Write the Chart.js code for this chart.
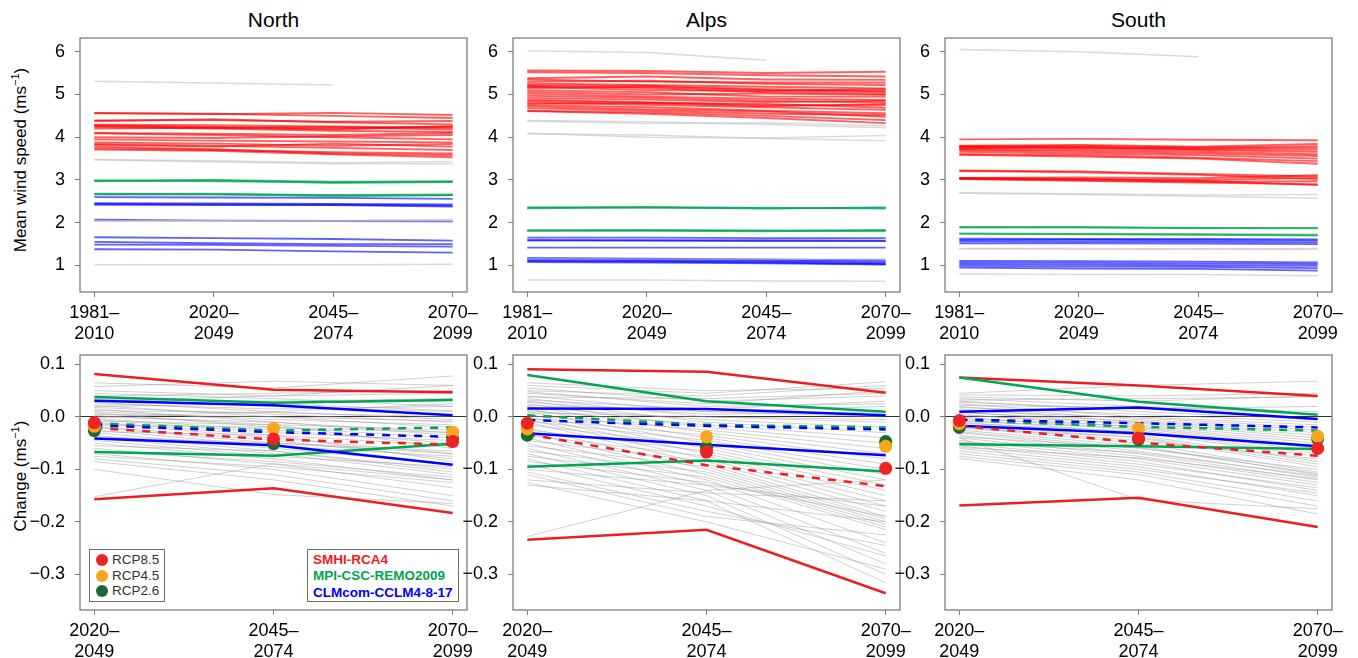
<!DOCTYPE html>
<html lang="en">
<head>
    <meta charset="UTF-8">
    <title>Mean wind speed and change by region</title>
    <style>
        body {
            margin: 0;
            background: #fff;
            font-family: "Liberation Sans", Arial, sans-serif;
        }
        #page {
            position: relative;
            width: 1358px;
            height: 658px;
            overflow: hidden;
        }
        canvas {
            position: absolute;
        }
        .ptitle {
            position: absolute;
            top: 9px;
            width: 387px;
            font-size: 21px;
            line-height: 21px;
            text-align: center;
            color: #000;
        }
        .ytitle {
            position: absolute;
            font-size: 17px;
            white-space: nowrap;
            color: #000;
            transform: translate(-50%, -50%) rotate(-90deg);
        }
        .ytitle sup {
            font-size: 11px;
        }
        .legend {
            position: absolute;
            border: 1px solid #6e6e6e;
            background: #fff;
            font-size: 13.5px;
        }
        .legend .row {
            position: absolute;
            white-space: nowrap;
        }
        .dot {
            position: absolute;
            width: 12px;
            height: 12px;
            border-radius: 50%;
        }
    </style>
</head>
<body>

<div id="page">
    <div class="ptitle" style="left:80px">North</div>
    <div class="ptitle" style="left:513px">Alps</div>
    <div class="ptitle" style="left:945px">South</div>
    <div class="ytitle" style="left:20px; top:160px">Mean wind speed (ms<sup>−1</sup>)</div>
    <div class="ytitle" style="left:20px; top:476px">Change (ms<sup>−1</sup>)</div>
</div>

<script src="https://cdn.jsdelivr.net/npm/chart.js"></script>
<script>
    // tick labels
    const topPeriods = [['1981–', '2010'], ['2020–', '2049'], ['2045–', '2074'], ['2070–', '2099']];
    const changePeriods = [['2020–', '2049'], ['2045–', '2074'], ['2070–', '2099']];
    const speedTicks = [1, 2, 3, 4, 5, 6];
    const changeTicks = [-0.3, -0.2, -0.1, 0, 0.1];

    // mean wind speed per model (1981-2010, 2020-2049, 2045-2074, 2070-2099)
    const northRed = [
        [4.57, 4.54, 4.57, 4.52], [4.56, 4.55, 4.50, 4.45], [4.39, 4.40, 4.36, 4.38], [4.38, 4.42, 4.35, 4.30],
        [4.29, 4.28, 4.25, 4.22], [4.28, 4.24, 4.20, 4.26], [4.26, 4.22, 4.24, 4.18], [4.24, 4.20, 4.15, 4.12],
        [4.20, 4.22, 4.18, 4.25], [4.10, 4.08, 4.05, 4.10], [4.09, 4.05, 4.00, 3.95], [4.00, 3.98, 4.02, 4.05],
        [3.95, 3.92, 3.90, 3.88], [3.88, 3.85, 3.80, 3.84], [3.84, 3.80, 3.75, 3.70], [3.82, 3.78, 3.85, 3.78],
        [3.78, 3.72, 3.62, 3.58], [3.74, 3.70, 3.65, 3.62], [3.71, 3.68, 3.60, 3.53]
    ];
    const northGreen = [
        [2.98, 3.00, 2.96, 2.96], [2.99, 2.97, 2.95, 2.97], [2.97, 2.99, 2.93, 2.95],
        [2.67, 2.68, 2.64, 2.64], [2.66, 2.66, 2.65, 2.66], [2.68, 2.67, 2.62, 2.65]
    ];
    const northBlue = [
        [2.60, 2.59, 2.58, 2.56], [2.46, 2.45, 2.44, 2.43], [2.44, 2.43, 2.42, 2.40], [2.42, 2.41, 2.41, 2.38],
        [2.07, 2.05, 2.04, 2.03], [1.66, 1.64, 1.62, 1.58], [1.55, 1.52, 1.50, 1.50], [1.49, 1.48, 1.46, 1.44],
        [1.38, 1.37, 1.33, 1.30]
    ];
    const northGray = [
        [5.31, 5.27, 5.22, null], [3.48, 3.45, 3.40, 3.43], [3.47, 3.42, 3.38, 3.38],
        [2.04, 2.06, 2.05, 2.08], [2.03, 2.04, 2.04, 2.05], [1.02, 1.02, 1.02, 1.03]
    ];

    const alpsRed = [
        [5.56, 5.55, 5.50, 5.53], [5.52, 5.50, 5.45, 5.42], [5.38, 5.42, 5.35, 5.34], [5.35, 5.30, 5.28, 5.28],
        [5.30, 5.32, 5.25, 5.22], [5.26, 5.22, 5.18, 5.14], [5.22, 5.20, 5.12, 5.08], [5.20, 5.15, 5.05, 5.01],
        [5.18, 5.10, 5.08, 5.12], [5.15, 5.18, 5.10, 5.05], [5.10, 5.05, 4.95, 4.95], [5.06, 5.00, 5.02, 4.99],
        [5.02, 4.95, 4.90, 4.87], [4.97, 4.92, 4.85, 4.81], [4.92, 4.88, 4.82, 4.85], [4.88, 4.82, 4.75, 4.75],
        [4.85, 4.80, 4.78, 4.69], [4.81, 4.76, 4.70, 4.64], [4.78, 4.80, 4.72, 4.78], [4.75, 4.70, 4.62, 4.56],
        [4.72, 4.65, 4.60, 4.48], [4.68, 4.62, 4.55, 4.52], [4.62, 4.58, 4.50, 4.40], [4.61, 4.55, 4.45, 4.33]
    ];
    const alpsGreen = [
        [2.35, 2.37, 2.34, 2.35], [2.36, 2.35, 2.35, 2.33], [2.34, 2.36, 2.33, 2.36],
        [1.82, 1.83, 1.81, 1.82], [1.81, 1.82, 1.82, 1.80], [1.82, 1.81, 1.80, 1.83]
    ];
    const alpsBlue = [
        [1.65, 1.65, 1.64, 1.64], [1.60, 1.59, 1.59, 1.58], [1.58, 1.58, 1.57, 1.57], [1.42, 1.42, 1.42, 1.42],
        [1.18, 1.16, 1.14, 1.12], [1.15, 1.14, 1.12, 1.08], [1.12, 1.11, 1.09, 1.05], [1.10, 1.09, 1.07, 1.03],
        [1.08, 1.07, 1.05, 1.02]
    ];
    const alpsGray = [
        [6.02, 5.98, 5.80, null], [4.39, 4.36, 4.30, 4.22], [4.38, 4.32, 4.34, 4.27], [4.09, 4.00, 3.98, 4.04],
        [4.08, 4.05, 3.97, 3.92], [1.16, 1.15, 1.14, 1.16], [0.66, 0.66, 0.64, 0.63]
    ];

    const southRed = [
        [3.95, 3.96, 3.94, 3.93], [3.80, 3.82, 3.78, 3.84], [3.79, 3.76, 3.74, 3.75], [3.78, 3.80, 3.76, 3.79],
        [3.76, 3.74, 3.70, 3.66], [3.74, 3.77, 3.72, 3.71], [3.72, 3.70, 3.66, 3.60], [3.70, 3.66, 3.62, 3.56],
        [3.66, 3.62, 3.58, 3.50], [3.60, 3.58, 3.52, 3.44], [3.59, 3.55, 3.50, 3.38],
        [3.22, 3.20, 3.14, 3.08], [3.21, 3.18, 3.12, 3.02], [3.05, 3.06, 3.04, 3.11], [3.04, 3.02, 3.00, 3.05],
        [3.03, 3.00, 2.96, 2.97], [3.02, 2.98, 2.94, 2.90], [3.04, 3.03, 2.98, 2.88]
    ];
    const southGreen = [
        [1.90, 1.89, 1.88, 1.87], [1.89, 1.90, 1.87, 1.88], [1.75, 1.74, 1.73, 1.72], [1.74, 1.73, 1.72, 1.70]
    ];
    const southBlue = [
        [1.63, 1.62, 1.62, 1.61], [1.60, 1.60, 1.59, 1.58], [1.57, 1.56, 1.55, 1.54], [1.52, 1.52, 1.51, 1.50],
        [1.11, 1.10, 1.09, 1.07], [1.07, 1.06, 1.05, 1.03], [1.03, 1.02, 1.01, 0.99], [0.99, 0.98, 0.97, 0.94],
        [0.95, 0.93, 0.92, 0.88]
    ];
    const southGray = [
        [6.05, 6.00, 5.88, null], [2.70, 2.68, 2.65, 2.66], [2.69, 2.66, 2.62, 2.57],
        [1.40, 1.40, 1.39, 1.38], [1.39, 1.38, 1.38, 1.40], [0.80, 0.79, 0.79, 0.76]
    ];

    // change vs 1981-2010 (2020-2049, 2045-2074, 2070-2099)
    // colored RCM arrays: [max, min, mean]
    const northChgRed = [[0.082, 0.052, 0.047], [-0.157, -0.136, -0.183], [-0.021, -0.043, -0.053]];
    const northChgGreen = [[0.038, 0.027, 0.032], [-0.067, -0.074, -0.051], [-0.012, -0.026, -0.020]];
    const northChgBlue = [[0.031, 0.022, 0.003], [-0.041, -0.054, -0.091], [-0.016, -0.029, -0.038]];
    const northRcp85 = [-0.011, -0.042, -0.047];
    const northRcp45 = [-0.018, -0.022, -0.029];
    const northRcp26 = [-0.026, -0.051, -0.042];
    const northChgGray = [
        [0.065, 0.055, 0.078], [0.058, 0.068, 0.060], [0.050, 0.040, 0.045], [0.045, 0.035, 0.020],
        [0.040, 0.045, 0.050], [0.035, 0.020, 0.010], [0.032, 0.030, 0.035], [0.028, 0.010, -0.005],
        [0.025, 0.015, 0.020], [0.022, 0.000, -0.020], [0.020, 0.025, 0.012], [0.018, 0.005, -0.010],
        [0.015, -0.010, -0.030], [0.012, 0.008, 0.000], [0.010, -0.005, -0.015], [0.008, -0.020, -0.040],
        [0.005, 0.000, -0.008], [0.003, -0.015, -0.025], [0.000, -0.010, -0.035], [-0.003, -0.025, -0.050],
        [-0.005, -0.030, -0.045], [-0.008, -0.015, -0.060], [-0.010, -0.035, -0.055], [-0.012, -0.040, -0.070],
        [-0.015, -0.020, -0.030], [-0.018, -0.045, -0.080], [-0.020, -0.050, -0.065], [-0.025, -0.055, -0.075],
        [-0.028, -0.035, -0.085], [-0.030, -0.060, -0.090], [-0.035, -0.065, -0.100], [-0.038, -0.050, -0.070],
        [-0.040, -0.070, -0.110], [-0.045, -0.075, -0.095], [-0.050, -0.080, -0.120], [-0.055, -0.065, -0.105],
        [-0.060, -0.090, -0.135], [-0.065, -0.085, -0.115], [-0.070, -0.100, -0.150], [-0.075, -0.095, -0.125],
        [-0.080, -0.110, -0.160], [-0.085, -0.120, -0.170], [-0.100, -0.148, -0.165], [-0.152, -0.089, -0.120],
        [0.030, 0.040, 0.060], [0.000, 0.010, 0.025]
    ];

    const alpsChgRed = [[0.091, 0.086, 0.046], [-0.234, -0.215, -0.336], [-0.033, -0.092, -0.132]];
    const alpsChgGreen = [[0.080, 0.030, 0.010], [-0.095, -0.083, -0.104], [0.003, -0.015, -0.020]];
    const alpsChgBlue = [[0.016, 0.015, 0.003], [-0.031, -0.053, -0.073], [-0.006, -0.017, -0.024]];
    const alpsRcp85 = [-0.012, -0.067, -0.098];
    const alpsRcp45 = [-0.023, -0.038, -0.056];
    const alpsRcp26 = [-0.035, -0.058, -0.047];
    const alpsChgGray = [
        [0.065, 0.050, 0.055], [0.060, 0.045, 0.067], [0.055, 0.030, 0.040], [0.050, 0.040, 0.060],
        [0.048, 0.020, 0.025], [0.045, 0.025, 0.050], [0.040, 0.010, 0.020], [0.038, 0.035, 0.045],
        [0.035, 0.000, -0.010], [0.032, 0.015, 0.030], [0.030, -0.010, -0.030], [0.028, 0.005, 0.010],
        [0.025, -0.020, -0.050], [0.022, 0.010, 0.000], [0.020, -0.030, -0.070], [0.018, -0.005, -0.020],
        [0.015, -0.040, -0.090], [0.012, -0.015, -0.040], [0.010, -0.050, -0.110], [0.008, 0.000, -0.005],
        [0.005, -0.060, -0.130], [0.003, -0.025, -0.060], [0.000, -0.070, -0.150], [-0.003, -0.035, -0.080],
        [-0.005, -0.080, -0.170], [-0.008, -0.045, -0.100], [-0.010, -0.090, -0.190], [-0.015, -0.055, -0.120],
        [-0.020, -0.100, -0.200], [-0.025, -0.065, -0.140], [-0.030, -0.110, -0.210], [-0.035, -0.075, -0.160],
        [-0.040, -0.120, -0.240], [-0.045, -0.085, -0.180], [-0.050, -0.130, -0.260], [-0.055, -0.095, -0.195],
        [-0.060, -0.140, -0.280], [-0.065, -0.105, -0.205], [-0.070, -0.150, -0.300], [-0.075, -0.115, -0.215],
        [-0.080, -0.160, -0.316], [-0.085, -0.125, -0.190], [-0.090, -0.170, -0.265], [-0.100, -0.130, -0.170],
        [-0.105, -0.180, -0.245], [-0.110, -0.190, -0.225], [-0.120, -0.145, -0.160], [-0.125, -0.200, -0.290],
        [-0.130, -0.160, -0.200], [-0.228, -0.140, -0.120]
    ];

    const southChgRed = [[0.075, 0.060, 0.040], [-0.169, -0.154, -0.210], [-0.017, -0.049, -0.074]];
    const southChgGreen = [[0.075, 0.029, 0.004], [-0.052, -0.056, -0.061], [-0.006, -0.019, -0.026]];
    const southChgBlue = [[0.010, 0.018, -0.004], [-0.017, -0.031, -0.056], [-0.005, -0.012, -0.020]];
    const southRcp85 = [-0.007, -0.040, -0.060];
    const southRcp45 = [-0.013, -0.022, -0.037];
    const southRcp26 = [-0.020, -0.043, -0.042];
    const southChgGray = [
        [0.045, 0.060, 0.068], [0.042, 0.040, 0.045], [0.038, 0.030, 0.040], [0.035, 0.020, 0.010],
        [0.032, 0.035, 0.038], [0.030, 0.010, -0.005], [0.028, 0.015, 0.020], [0.025, 0.000, -0.015],
        [0.022, 0.018, 0.005], [0.020, -0.005, -0.025], [0.018, 0.005, -0.010], [0.015, -0.010, -0.035],
        [0.012, -0.002, -0.020], [0.010, -0.015, -0.045], [0.008, -0.008, -0.030], [0.005, -0.020, -0.055],
        [0.003, -0.012, -0.040], [0.000, -0.025, -0.065], [-0.003, -0.018, -0.050], [-0.005, -0.030, -0.075],
        [-0.008, -0.022, -0.060], [-0.010, -0.035, -0.085], [-0.012, -0.028, -0.070], [-0.015, -0.040, -0.095],
        [-0.018, -0.045, -0.080], [-0.020, -0.050, -0.105], [-0.022, -0.038, -0.090], [-0.025, -0.055, -0.110],
        [-0.028, -0.060, -0.100], [-0.030, -0.065, -0.115], [-0.035, -0.070, -0.120], [-0.038, -0.058, -0.108],
        [-0.040, -0.075, -0.125], [-0.045, -0.080, -0.130], [-0.048, -0.068, -0.112], [-0.050, -0.085, -0.140],
        [-0.055, -0.090, -0.135], [-0.058, -0.078, -0.118], [-0.060, -0.095, -0.150], [-0.065, -0.100, -0.145],
        [-0.070, -0.105, -0.160], [-0.075, -0.110, -0.170], [-0.079, -0.120, -0.185], [-0.040, -0.158, -0.175]
    ];

    // layout of the six plot boxes (page pixels)
    const COL_LEFT = [80, 513, 945];
    const BOX_W = 387;
    const ROW_TOP = {t: 38, b: 292};
    const ROW_BOTTOM = {t: 355, b: 610};
    const PAD_L = 64, PAD_T = 12, PAD_R = 24, PAD_B = 58;

    const FONT = "'Liberation Sans', Arial, sans-serif";
    const AXIS_GRAY = '#7f7f7f';

    // box around the plot region, like R's bty="o"
    const boxPlugin = {
        id: 'plotBox',
        afterDatasetsDraw(chart) {
            const {ctx, chartArea: a} = chart;
            ctx.save();
            ctx.strokeStyle = AXIS_GRAY;
            ctx.lineWidth = 1.3;
            ctx.strokeRect(a.left, a.top, a.right - a.left, a.bottom - a.top);
            ctx.restore();
        }
    };

    function line(vals, color, width, dash) {
        return {
            data: vals.map((v, i) => v === null ? null : {x: i, y: v}).filter(p => p),
            borderColor: color,
            borderWidth: width,
            borderDash: dash || [],
            pointRadius: 0,
            fill: false,
            tension: 0
        };
    }

    function dots(vals, color) {
        return {
            data: vals.map((v, i) => ({x: i, y: v})),
            showLine: false,
            pointRadius: 6.5,
            pointBackgroundColor: color,
            pointBorderColor: color,
            pointBorderWidth: 0,
            borderColor: color
        };
    }

    function speedSets(gray, red, green, blue) {
        const sets = [];
        gray.forEach(v => sets.push(line(v, 'rgba(195,195,195,0.6)', 1.5)));
        red.forEach(v => sets.push(line(v, 'rgba(255,0,0,0.62)', 1.9)));
        green.forEach(v => sets.push(line(v, 'rgba(0,166,81,0.65)', 1.9)));
        blue.forEach(v => sets.push(line(v, 'rgba(0,0,255,0.62)', 1.8)));
        return sets;
    }

    function changeSets(gray, red, green, blue, r85, r45, r26) {
        const sets = [];
        gray.forEach(v => sets.push(line(v, 'rgba(150,150,150,0.45)', 1)));
        [[red, '#ee1d23'], [green, '#00a651'], [blue, '#0000ff']].forEach(([arr, c]) => {
            sets.push(line(arr[0], c, 2.5));
            sets.push(line(arr[1], c, 2.5));
        });
        [[red, '#ee1d23'], [green, '#00a651'], [blue, '#0000ff']].forEach(([arr, c]) => {
            sets.push(line(arr[2], c, 2.5, [8, 8]));
        });
        sets.push(dots(r26, '#1b6a36'));
        sets.push(dots(r45, '#f8a61c'));
        sets.push(dots(r85, '#ee2326'));
        // first pushed is drawn first (at the back)
        sets.forEach((d, i) => { d.order = sets.length - i; });
        return sets;
    }

    function makePanel(col, row, datasets, periods, yMin, yMax, yTicks, yFormat) {
        const page = document.getElementById('page');
        const canvas = document.createElement('canvas');
        const w = BOX_W + PAD_L + PAD_R;
        const h = (row.b - row.t) + PAD_T + PAD_B;
        canvas.width = w;
        canvas.height = h;
        canvas.style.width = w + 'px';
        canvas.style.height = h + 'px';
        canvas.style.left = (COL_LEFT[col] - PAD_L) + 'px';
        canvas.style.top = (row.t - PAD_T) + 'px';
        page.appendChild(canvas);

        const n = periods.length;
        const xPad = (n - 1) * 0.04;   // R's 4% axis extension

        new Chart(canvas, {
            type: 'line',
            data: {datasets: datasets},
            options: {
                responsive: false,
                animation: false,
                events: [],
                layout: {padding: {left: 0, top: PAD_T, right: PAD_R, bottom: 0}},
                plugins: {legend: {display: false}, tooltip: {enabled: false}},
                scales: {
                    x: {
                        type: 'linear',
                        min: -xPad,
                        max: n - 1 + xPad,
                        afterBuildTicks: s => { s.ticks = periods.map((p, i) => ({value: i})); },
                        afterFit: s => { s.height = PAD_B; s.paddingLeft = 0; s.paddingRight = 0; },
                        border: {display: false},
                        grid: {drawOnChartArea: false, drawTicks: true, tickLength: 5, tickColor: AXIS_GRAY},
                        ticks: {
                            callback: (v, i) => periods[i],
                            maxRotation: 0,
                            autoSkip: false,
                            padding: 6,
                            color: '#000',
                            font: {family: FONT, size: 18, lineHeight: 1.15}
                        }
                    },
                    y: {
                        min: yMin,
                        max: yMax,
                        afterBuildTicks: s => { s.ticks = yTicks.map(v => ({value: v})); },
                        afterFit: s => { s.width = PAD_L; s.paddingTop = 0; s.paddingBottom = 0; },
                        border: {display: false},
                        grid: {
                            drawOnChartArea: true,
                            drawTicks: true,
                            tickLength: 5,
                            tickColor: AXIS_GRAY,
                            lineWidth: 1,
                            color: c => (yFormat === 'change' && c.tick && c.tick.value === 0) ? '#333' : 'rgba(0,0,0,0)'
                        },
                        ticks: {
                            callback: v => yFormat === 'change' ? v.toFixed(1).replace('-', '−') : String(v),
                            padding: 10,
                            color: '#000',
                            font: {family: FONT, size: 18}
                        }
                    }
                }
            },
            plugins: [boxPlugin]
        });
    }

    // top row: mean wind speed
    makePanel(0, ROW_TOP, speedSets(northGray, northRed, northGreen, northBlue), topPeriods, 0.38, 6.32, speedTicks, 'speed');
    makePanel(1, ROW_TOP, speedSets(alpsGray, alpsRed, alpsGreen, alpsBlue), topPeriods, 0.38, 6.32, speedTicks, 'speed');
    makePanel(2, ROW_TOP, speedSets(southGray, southRed, southGreen, southBlue), topPeriods, 0.38, 6.32, speedTicks, 'speed');

    // bottom row: change
    makePanel(0, ROW_BOTTOM, changeSets(northChgGray, northChgRed, northChgGreen, northChgBlue, northRcp85, northRcp45, northRcp26), changePeriods, -0.368, 0.118, changeTicks, 'change');
    makePanel(1, ROW_BOTTOM, changeSets(alpsChgGray, alpsChgRed, alpsChgGreen, alpsChgBlue, alpsRcp85, alpsRcp45, alpsRcp26), changePeriods, -0.368, 0.118, changeTicks, 'change');
    makePanel(2, ROW_BOTTOM, changeSets(southChgGray, southChgRed, southChgGreen, southChgBlue, southRcp85, southRcp45, southRcp26), changePeriods, -0.368, 0.118, changeTicks, 'change');

    // legends (drawn over the North change panel)
    const page = document.getElementById('page');
    const rcpLegend = document.createElement('div');
    rcpLegend.className = 'legend';
    rcpLegend.style.cssText = 'left:89px; top:549px; width:74px; height:51px; color:#333;';
    [['RCP8.5', '#ee2326'], ['RCP4.5', '#f8a61c'], ['RCP2.6', '#1b6a36']].forEach(([name, c], i) => {
        const cy = 10 + i * 15.5;
        rcpLegend.innerHTML += `<span class="dot" style="left:6px; top:${cy - 6}px; background:${c}"></span>` +
            `<span class="row" style="left:22px; top:${cy - 8}px; line-height:16px">${name}</span>`;
    });
    page.appendChild(rcpLegend);

    const rcmLegend = document.createElement('div');
    rcmLegend.className = 'legend';
    rcmLegend.style.cssText = 'left:307px; top:549px; width:150px; height:51px; font-weight:bold;';
    [['SMHI-RCA4', '#ee1d23'], ['MPI-CSC-REMO2009', '#00a651'], ['CLMcom-CCLM4-8-17', '#0000ff']].forEach(([name, c], i) => {
        const cy = 9.5 + i * 16.5;
        rcmLegend.innerHTML += `<span class="row" style="left:5px; top:${cy - 8}px; line-height:16px; color:${c}">${name}</span>`;
    });
    page.appendChild(rcmLegend);
</script>

</body>
</html>
